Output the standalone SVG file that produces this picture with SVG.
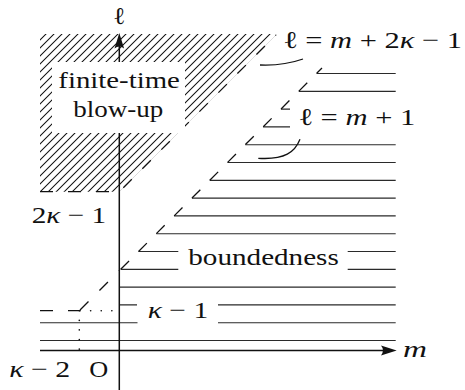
<svg xmlns="http://www.w3.org/2000/svg" width="465" height="390" viewBox="0 0 465 390">
<style>
.t{font-family:"Liberation Serif","Times New Roman",serif;font-size:24px;fill:#111}
.i{font-style:italic}
.h{stroke:#2a2a2a;stroke-width:1.15;fill:none}
.ax{stroke:#111;stroke-width:1.5;fill:none}
.dd{stroke:#111;stroke-width:1.3;fill:none}
</style>
<defs>
<pattern id="ne" patternUnits="userSpaceOnUse" width="8" height="8">
<path d="M-1,1 L1,-1 M0,8 L8,0 M7,9 L9,7" stroke="#111" stroke-width="1.05"/>
</pattern>
</defs>
<g id="blowup-region">
<polygon points="40,34 277,34 119.3,191.7 40,191.7" fill="url(#ne)"/>
<path class="dd" d="M40,191.7 H119.3" stroke-dasharray="13 15"/>
</g>
<g id="hatch-bounded">
<path class="h" d="M316.5,73.5 H395.7 M298.7,91.3 H395.7 M280.9,109.1 H290 M263.1,126.9 H290 M245.3,144.7 H395.7 M227.5,162.5 H395.7 M209.7,180.3 H395.7 M191.9,198.1 H395.7 M174.1,215.9 H395.7 M156.3,233.7 H395.7 M138.5,251.5 H178.3 M347.7,251.5 H395.7 M120.7,269.3 H178.3 M347.7,269.3 H395.7 M119.3,287.1 H395.7 M119.3,304.9 H137 M218,304.9 H395.7 M40,322.7 H137.5 M218,322.7 H395.7 M40,340.5 H395.7"/>
</g>
<g id="connectors">
<path class="dd" d="M123.3,187.7 L276,35" stroke-dasharray="12 14.9"/>
<path class="dd" d="M120.7,269.3 L322,68" stroke-dasharray="11.8 13.4"/>
<path class="dd" d="M80,310 L119.3,270.7" stroke-dasharray="12 15.5"/>
<path class="dd" d="M40,310.7 H80" stroke-dasharray="13 15"/>
<path stroke="#111" stroke-width="1.6" stroke-linecap="round" fill="none" d="M80,310.7 H119" stroke-dasharray="0.1 10.5"/>
<path stroke="#111" stroke-width="1.6" stroke-linecap="round" fill="none" d="M79.3,310.7 V350" stroke-dasharray="0.1 9.5"/>
<path class="dd" d="M260,65 Q283,66 303,59"/>
<path class="dd" d="M300,139.3 C295,152 285,160 258.3,158.3"/>
</g>
<g id="axes">
<path class="ax" d="M40,350.5 H385"/>
<path d="M396.7,350.5 L381,345.6 Q385,350.5 381,355.4 Z" fill="#111"/>
<path class="ax" d="M119.3,390 V45"/>
<path d="M119.3,33 L114.5,48.5 Q119.3,44.5 124.1,48.5 Z" fill="#111"/>
</g>
<g id="label-blowup">
<rect x="52" y="62" width="133" height="71" fill="#fff"/>
<text class="t" x="58.3" y="88.3" textLength="121.5" lengthAdjust="spacingAndGlyphs">finite-time</text>
<text class="t" x="73.3" y="116.7" textLength="90" lengthAdjust="spacingAndGlyphs">blow-up</text>
</g>
<g id="label-bounded">
<text class="t" x="188.3" y="265" textLength="150.5" lengthAdjust="spacingAndGlyphs">boundedness</text>
</g>
<g id="labels">
<text class="t" x="113" y="24" textLength="12" lengthAdjust="spacingAndGlyphs">ℓ</text>
<text class="t i" x="403" y="356.7" textLength="24" lengthAdjust="spacingAndGlyphs">m</text>
<text class="t" x="283" y="48.3" textLength="179" lengthAdjust="spacingAndGlyphs">ℓ = <tspan class="i">m</tspan> + 2<tspan class="i">κ</tspan> − 1</text>
<text class="t" x="298.3" y="125" textLength="117" lengthAdjust="spacingAndGlyphs">ℓ = <tspan class="i">m</tspan> + 1</text>
<text class="t" x="147.7" y="318.3" textLength="60.5" lengthAdjust="spacingAndGlyphs"><tspan class="i">κ</tspan> − 1</text>
<text class="t" x="31.7" y="223.3" textLength="74.5" lengthAdjust="spacingAndGlyphs">2<tspan class="i">κ</tspan> − 1</text>
<text class="t" x="9.3" y="376.7" textLength="61" lengthAdjust="spacingAndGlyphs"><tspan class="i">κ</tspan> − 2</text>
<text class="t" x="89.3" y="377" textLength="19" lengthAdjust="spacingAndGlyphs">O</text>
</g>
</svg>
